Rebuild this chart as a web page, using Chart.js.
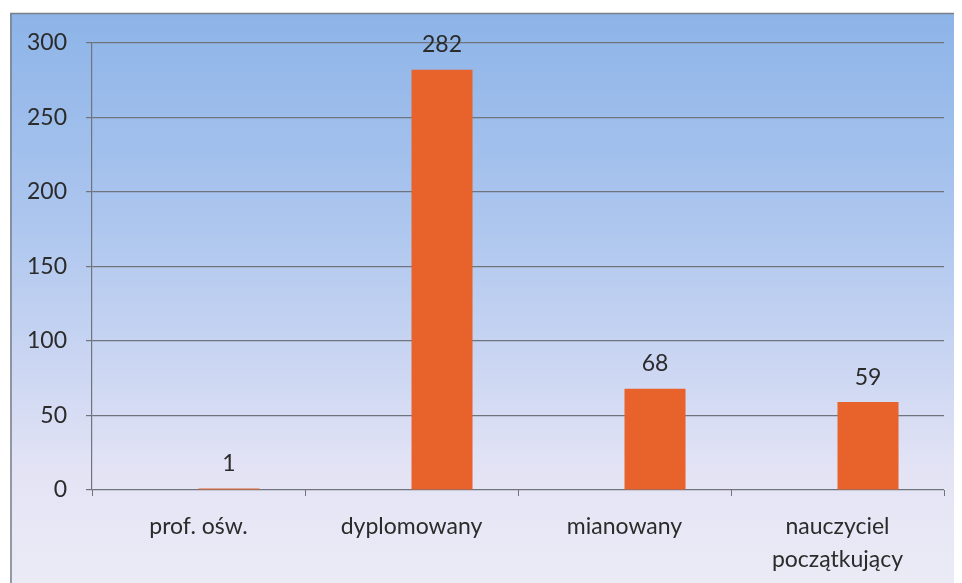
<!DOCTYPE html>
<html>
<head>
<meta charset="utf-8">
<script src="https://cdn.jsdelivr.net/npm/chart.js@4"></script>
<style>
  html, body { margin: 0; padding: 0; background: #ffffff; }
  #wrap { width: 962px; height: 583px; }
</style>
</head>
<body>
<div id="wrap"><canvas id="myChart" width="962" height="583"></canvas></div>
<script>
const categories = ['prof. ośw.', 'dyplomowany', 'mianowany', ['nauczyciel', 'początkujący']];
// the original chart has an empty first series, so the bars sit right of centre
const emptySeries = [null, null, null, null];
const counts = [1, 282, 68, 59];
const yTicks = [0, 50, 100, 150, 200, 250, 300];

// background panel with gradient, like the Excel chart area
const panelBg = {
    id: 'panelBg',
    beforeDraw(chart) {
        const c = chart.ctx;
        c.save();
        const g = c.createLinearGradient(0, 13, 0, 583);
        g.addColorStop(0, '#8db4e8');
        g.addColorStop(0.35, '#abc5ee');
        g.addColorStop(0.6, '#c9d5f2');
        g.addColorStop(0.8, '#e3e3f5');
        g.addColorStop(1, '#ebebf6');
        c.fillStyle = g;
        c.fillRect(10, 13, 944, 570);
        c.strokeStyle = '#7a7f88';
        c.lineWidth = 1.5;
        c.beginPath();
        c.moveTo(11, 583);
        c.lineTo(11, 13.5);
        c.lineTo(954, 13.5);
        c.stroke();
        c.restore();
    }
};

// value labels above bars
const valueLabels = {
    id: 'valueLabels',
    afterDatasetsDraw(chart) {
        const c = chart.ctx;
        const meta = chart.getDatasetMeta(1);
        c.save();
        c.font = '23px Lato';
        c.fillStyle = '#2b2b2b';
        c.textAlign = 'center';
        c.textBaseline = 'middle';
        meta.data.forEach((bar, i) => {
            c.fillText(String(counts[i]), bar.x, bar.y - 25);
        });
        c.restore();
    }
};

new Chart(document.getElementById('myChart'), {
    type: 'bar',
    data: {
        labels: categories,
        datasets: [{
            data: emptySeries,
            backgroundColor: 'rgba(0,0,0,0)'
        }, {
            data: counts,
            backgroundColor: '#e8622c'
        }]
    },
    options: {
        responsive: false,
        animation: false,
        datasets: {
            bar: { categoryPercentage: 0.573, barPercentage: 1, borderWidth: 0 }
        },
        layout: { padding: { top: 43, right: 18, left: 0, bottom: 0 } },
        plugins: {
            legend: { display: false },
            tooltip: { enabled: false }
        },
        scales: {
            x: {
                afterFit(axis) { axis.height = 93; },
                grid: {
                    offset: true,
                    drawOnChartArea: false,
                    color: '#6f747d',
                    tickLength: 6
                },
                border: { display: false },
                ticks: {
                    color: '#2b2b2b',
                    font: { family: 'Lato', size: 23, lineHeight: 1.43 },
                    padding: 14,
                    maxRotation: 0
                }
            },
            y: {
                min: 0,
                max: 300,
                afterFit(axis) { axis.width = 92; },
                afterBuildTicks(axis) { axis.ticks = yTicks.map(v => ({ value: v })); },
                grid: {
                    color: '#6f747d',
                    lineWidth: 1.2,
                    tickLength: 6
                },
                border: { display: true, color: '#6f747d', width: 1.2 },
                ticks: {
                    color: '#2b2b2b',
                    font: { family: 'Lato', size: 23 },
                    padding: 19
                }
            }
        }
    },
    plugins: [panelBg, valueLabels]
});
</script>
</body>
</html>
